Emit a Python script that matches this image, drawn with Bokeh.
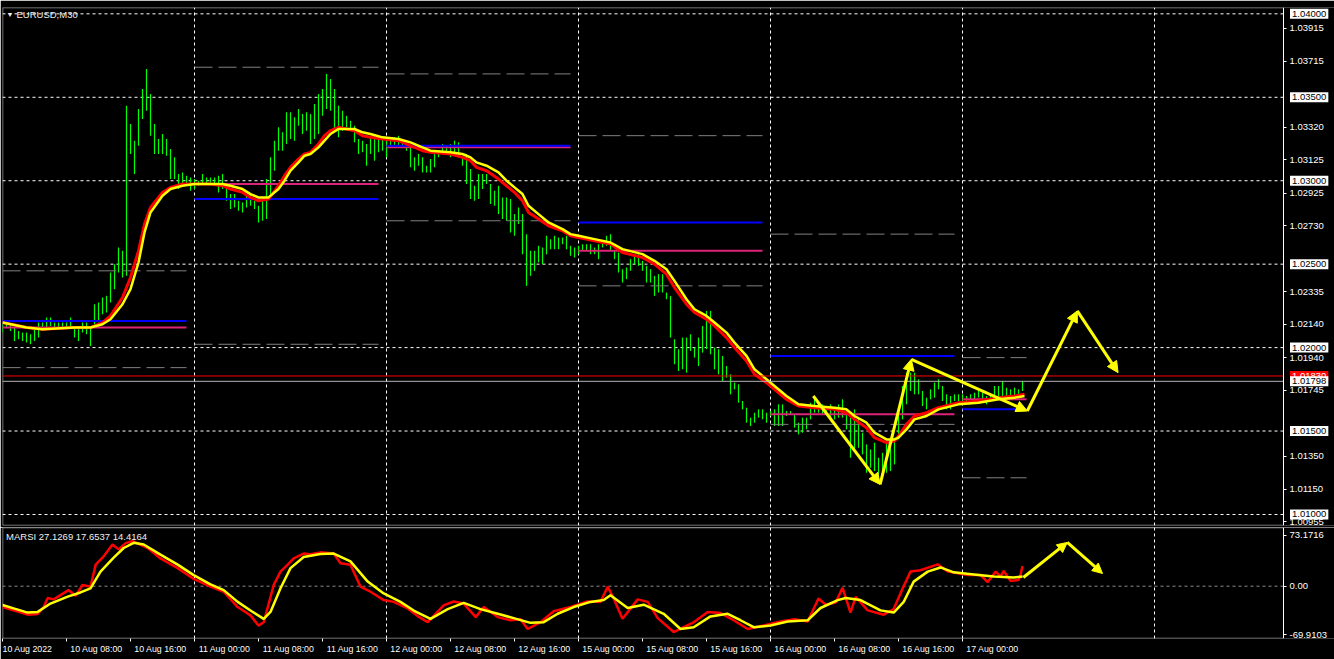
from bokeh.plotting import figure
from bokeh.models import (ColumnDataSource, FixedTicker, Label, Arrow, NormalHead,
                          Range1d, PrintfTickFormatter, LinearAxis, BoxAnnotation)
from bokeh.layouts import column
from bokeh.embed import file_html
from bokeh.resources import INLINE

# ---------------- data ----------------
BAR_HIGH = [
    1.0214, 1.0215, 1.0214, 1.0212, 1.0210, 1.0209, 1.0209, 1.0208, 1.0211, 1.0215,
    1.0215, 1.0218, 1.0218, 1.0215, 1.0215, 1.0215, 1.0215, 1.0218, 1.0212, 1.0211,
    1.0215, 1.0215, 1.0213, 1.0226, 1.0227, 1.0230, 1.0231, 1.0245, 1.0250, 1.0260,
    1.0258, 1.0345, 1.0334, 1.0324, 1.0343, 1.0355, 1.0367, 1.0352, 1.0334, 1.0325,
    1.0328, 1.0325, 1.0319, 1.0314, 1.0304, 1.0305, 1.0303, 1.0302, 1.0301, 1.0300,
    1.0304, 1.0302, 1.0302, 1.0302, 1.0303, 1.0304, 1.0298, 1.0292, 1.0292, 1.0288,
    1.0287, 1.0292, 1.0292, 1.0288, 1.0285, 1.0288, 1.0301, 1.0314, 1.0324, 1.0332,
    1.0329, 1.0341, 1.0341, 1.0338, 1.0343, 1.0340, 1.0341, 1.0340, 1.0346, 1.0352,
    1.0355, 1.0364, 1.0361, 1.0355, 1.0345, 1.0342, 1.0339, 1.0336, 1.0333, 1.0325,
    1.0324, 1.0322, 1.0327, 1.0325, 1.0327, 1.0325, 1.0324, 1.0325, 1.0326, 1.0327,
    1.0323, 1.0322, 1.0320, 1.0314, 1.0316, 1.0314, 1.0309, 1.0313, 1.0316, 1.0318,
    1.0322, 1.0321, 1.0322, 1.0324, 1.0323, 1.0314, 1.0316, 1.0307, 1.0297, 1.0304,
    1.0304, 1.0304, 1.0298, 1.0294, 1.0297, 1.0290, 1.0290, 1.0289, 1.0280, 1.0284,
    1.0280, 1.0268, 1.0258, 1.0258, 1.0261, 1.0260, 1.0267, 1.0265, 1.0267, 1.0266,
    1.0266, 1.0267, 1.0261, 1.0260, 1.0261, 1.0262, 1.0262, 1.0262, 1.0260, 1.0262,
    1.0264, 1.0267, 1.0268, 1.0258, 1.0257, 1.0247, 1.0248, 1.0253, 1.0255, 1.0256,
    1.0252, 1.0249, 1.0247, 1.0243, 1.0244, 1.0244, 1.0233, 1.0231, 1.0205, 1.0199,
    1.0206, 1.0206, 1.0208, 1.0200, 1.0206, 1.0213, 1.0222, 1.0222, 1.0200, 1.0199,
    1.0195, 1.0189, 1.0184, 1.0179, 1.0178, 1.0168, 1.0164, 1.0158, 1.0161, 1.0163,
    1.0163, 1.0161, 1.0162, 1.0163, 1.0166, 1.0166, 1.0162, 1.0162, 1.0160, 1.0155,
    1.0158, 1.0158, 1.0167, 1.0169, 1.0167, 1.0166, 1.0164, 1.0166, 1.0164, 1.0166,
    1.0169, 1.0163, 1.0158, 1.0163, 1.0158, 1.0149, 1.0142, 1.0139, 1.0143, 1.0134,
    1.0137, 1.0143, 1.0146, 1.0146, 1.0161, 1.0177, 1.0185, 1.0185, 1.0185, 1.0181,
    1.0174, 1.0170, 1.0175, 1.0179, 1.0181, 1.0177, 1.0172, 1.0171, 1.0172, 1.0172,
    1.0172, 1.0171, 1.0172, 1.0173, 1.0175, 1.0173, 1.0171, 1.0172, 1.0177, 1.0177,
    1.0180, 1.0176, 1.0175, 1.0176, 1.0175, 1.0180,
]
BAR_LOW = [
    1.0209, 1.0212, 1.0210, 1.0204, 1.0205, 1.0204, 1.0203, 1.0202, 1.0204, 1.0206,
    1.0210, 1.0212, 1.0213, 1.0212, 1.0212, 1.0212, 1.0211, 1.0212, 1.0206, 1.0204,
    1.0209, 1.0208, 1.0201, 1.0213, 1.0215, 1.0220, 1.0221, 1.0227, 1.0235, 1.0245,
    1.0242, 1.0243, 1.0316, 1.0304, 1.0321, 1.0337, 1.0342, 1.0327, 1.0316, 1.0316,
    1.0316, 1.0315, 1.0301, 1.0301, 1.0295, 1.0298, 1.0298, 1.0294, 1.0295, 1.0297,
    1.0298, 1.0298, 1.0299, 1.0297, 1.0293, 1.0295, 1.0288, 1.0283, 1.0284, 1.0282,
    1.0281, 1.0284, 1.0285, 1.0283, 1.0275, 1.0276, 1.0277, 1.0292, 1.0306, 1.0318,
    1.0318, 1.0322, 1.0325, 1.0324, 1.0333, 1.0328, 1.0330, 1.0322, 1.0325, 1.0328,
    1.0339, 1.0343, 1.0342, 1.0331, 1.0326, 1.0330, 1.0332, 1.0330, 1.0323, 1.0316,
    1.0317, 1.0309, 1.0316, 1.0312, 1.0317, 1.0318, 1.0314, 1.0320, 1.0321, 1.0321,
    1.0320, 1.0318, 1.0308, 1.0306, 1.0309, 1.0305, 1.0305, 1.0305, 1.0308, 1.0314,
    1.0316, 1.0317, 1.0314, 1.0317, 1.0314, 1.0309, 1.0298, 1.0289, 1.0288, 1.0289,
    1.0295, 1.0298, 1.0286, 1.0285, 1.0280, 1.0277, 1.0276, 1.0269, 1.0267, 1.0274,
    1.0256, 1.0237, 1.0243, 1.0246, 1.0251, 1.0250, 1.0256, 1.0259, 1.0259, 1.0259,
    1.0262, 1.0259, 1.0255, 1.0254, 1.0256, 1.0258, 1.0258, 1.0256, 1.0256, 1.0253,
    1.0260, 1.0261, 1.0258, 1.0253, 1.0245, 1.0239, 1.0241, 1.0246, 1.0250, 1.0249,
    1.0246, 1.0239, 1.0239, 1.0231, 1.0233, 1.0233, 1.0229, 1.0206, 1.0190, 1.0186,
    1.0187, 1.0185, 1.0198, 1.0194, 1.0189, 1.0197, 1.0199, 1.0196, 1.0187, 1.0184,
    1.0180, 1.0182, 1.0172, 1.0175, 1.0167, 1.0163, 1.0155, 1.0153, 1.0155, 1.0158,
    1.0157, 1.0155, 1.0159, 1.0153, 1.0153, 1.0153, 1.0159, 1.0160, 1.0152, 1.0148,
    1.0149, 1.0151, 1.0157, 1.0161, 1.0161, 1.0160, 1.0161, 1.0158, 1.0157, 1.0158,
    1.0158, 1.0151, 1.0134, 1.0139, 1.0140, 1.0136, 1.0125, 1.0128, 1.0126, 1.0124,
    1.0122, 1.0125, 1.0126, 1.0130, 1.0145, 1.0157, 1.0166, 1.0174, 1.0172, 1.0172,
    1.0165, 1.0163, 1.0169, 1.0170, 1.0175, 1.0168, 1.0163, 1.0163, 1.0168, 1.0168,
    1.0168, 1.0168, 1.0169, 1.0169, 1.0170, 1.0169, 1.0166, 1.0168, 1.0169, 1.0170,
    1.0171, 1.0170, 1.0169, 1.0170, 1.0171, 1.0174,
]
BAR_IDX = list(range(len(BAR_HIGH)))

MA_IDX = [
    0, 6, 10, 18, 22, 25, 27, 30, 32, 34,
    35.5, 37, 40, 42, 45, 48, 52, 55, 57, 60,
    62, 64, 66.5, 69, 70.5, 72, 74, 75.5, 77, 79,
    80.5, 82, 84, 86, 88, 90, 92, 95, 99, 102,
    105, 107, 112, 115, 117, 118.5, 121, 124, 126, 128,
    130, 131.5, 134, 136.5, 140, 142, 144, 148, 152, 155,
    160, 163, 166, 168, 171, 173, 176, 178, 181, 183,
    186, 188, 191, 193, 196, 199, 203, 208, 211, 213,
    216, 218, 221, 223, 224, 226, 228, 231, 234, 239,
    244, 249, 253, 255.5,
]
MA_SLOW = [
    1.0215, 1.0212, 1.0211, 1.0212, 1.0212, 1.0214, 1.0217, 1.0226, 1.0235, 1.0251,
    1.0269, 1.0281, 1.0291, 1.0295, 1.0297, 1.0298, 1.0298, 1.0298, 1.0297, 1.0295,
    1.0292, 1.0290, 1.0290, 1.0295, 1.0300, 1.0306, 1.0311, 1.0315, 1.0316, 1.0320,
    1.0324, 1.0328, 1.0331, 1.0331, 1.0331, 1.0329, 1.0328, 1.0326, 1.0325, 1.0323,
    1.0320, 1.0318, 1.0317, 1.0316, 1.0314, 1.0311, 1.0309, 1.0305, 1.0300, 1.0296,
    1.0292, 1.0285, 1.0280, 1.0275, 1.0271, 1.0268, 1.0267, 1.0265, 1.0263, 1.0259,
    1.0256, 1.0252, 1.0247, 1.0240, 1.0229, 1.0223, 1.0219, 1.0215, 1.0209, 1.0203,
    1.0195, 1.0187, 1.0181, 1.0177, 1.0171, 1.0166, 1.0165, 1.0164, 1.0163, 1.0159,
    1.0155, 1.0149, 1.0145, 1.0145, 1.0146, 1.0151, 1.0157, 1.0159, 1.0163, 1.0166,
    1.0167, 1.0169, 1.0170, 1.0171,
]
MA_FAST = [
    1.0215, 1.0212, 1.0211, 1.0212, 1.0212, 1.0215, 1.0219, 1.0230, 1.0242, 1.0258,
    1.0274, 1.0284, 1.0293, 1.0296, 1.0298, 1.0298, 1.0298, 1.0297, 1.0295, 1.0293,
    1.0290, 1.0288, 1.0289, 1.0297, 1.0303, 1.0308, 1.0313, 1.0316, 1.0317, 1.0322,
    1.0327, 1.0330, 1.0332, 1.0331, 1.0330, 1.0327, 1.0326, 1.0325, 1.0324, 1.0321,
    1.0318, 1.0317, 1.0316, 1.0314, 1.0312, 1.0308, 1.0306, 1.0301, 1.0297, 1.0293,
    1.0288, 1.0281, 1.0277, 1.0273, 1.0270, 1.0267, 1.0266, 1.0264, 1.0262, 1.0257,
    1.0254, 1.0250, 1.0244, 1.0236, 1.0226, 1.0221, 1.0217, 1.0213, 1.0206, 1.0200,
    1.0192, 1.0184, 1.0179, 1.0175, 1.0169, 1.0165, 1.0164, 1.0163, 1.0161, 1.0157,
    1.0152, 1.0146, 1.0143, 1.0144, 1.0147, 1.0154, 1.0159, 1.0161, 1.0164, 1.0167,
    1.0168, 1.0170, 1.0171, 1.0172,
]

MARSI_SLOW_IDX = [
    0, 2.8, 6.3, 8.8, 12, 16.3, 19.5, 22, 24.5, 27.8,
    30.3, 32.8, 35.3, 39.5, 43.8, 47.8, 52, 55.3, 58.8, 62,
    65.3, 67, 69.5, 72, 75.3, 79.5, 82.8, 87, 91.3, 95.3,
    99.5, 102.8, 107, 111.3, 115.3, 119.5, 123.8, 127.8, 132, 135.3,
    138.8, 142.8, 147, 150.3, 152, 156.3, 160.3, 165.3, 169.5, 172.8,
    177, 181.3, 184.5, 187.8, 192, 196.3, 201.3, 204.5, 208.8, 210.8,
    214.5, 219.5, 222.8, 225.3, 227.8, 231.3, 234.5, 237.8, 242.8, 247.8,
    252.8, 255,
]
MARSI_SLOW = [
    -27, -32, -38, -37, -25, -15, -9, -3, 21, 41,
    55, 62.5, 60, 45.5, 31, 16, 2.7, -5.6, -22.6, -35,
    -47, -37, -3, 26, 42, 46.4, 47, 35.8, 6.6, -10.5,
    -22.6, -35, -47, -33, -24, -33, -39.7, -46, -52.8, -51.8,
    -39.7, -30, -22.6, -20, -12.9, -31.4, -26.6, -39.7, -61.6, -59,
    -43.5, -39.7, -49, -59, -56.7, -50.8, -49, -31.4, -20, -17,
    -20, -34.8, -38, -22.6, 6.6, 21, 27, 20, 17, 13.9,
    12.4, 13.9,
]
MARSI_FAST_IDX = [
    0, 6.3, 8.8, 10.3, 11.3, 12.8, 16.5, 18.3, 20, 22,
    23.3, 25.3, 27.5, 29, 30.8, 32.5, 36.3, 39.5, 43.8, 47.8,
    52, 55.3, 58.8, 62, 64, 65.3, 67.8, 69.5, 71.3, 72.8,
    75.3, 77, 79.5, 82.8, 84.5, 87, 89.5, 92, 95.3, 97.8,
    101.3, 103.8, 106.3, 110.3, 112.8, 115.3, 118.3, 120.3, 123.8, 127,
    129.5, 131.3, 134.5, 137.8, 142, 146.3, 149.5, 151.3, 152.8, 155,
    158.8, 161.3, 163.8, 167.8, 170.3, 172.8, 176.3, 179.5, 182.8, 186.3,
    190.3, 194.5, 198, 201.3, 204, 205.8, 208.3, 210, 212, 213.3,
    216.3, 220.3, 222.8, 225, 227, 229.5, 233.8, 236.3, 241.3, 244.5,
    246.3, 248.3, 249.5, 250.3, 252, 254, 254.5, 255,
]
MARSI_FAST = [
    -30, -41, -40, -30, -17, -19, -5.6, -13.6, 1.7, -0.7,
    31, 43, 60, 53, 62, 65, 55, 40, 26, 10.5,
    -0.7, -8, -30, -42, -56.7, -52, 1.7, 21, 31, 40,
    47, 46, 48.7, 47, 33, 31, -0.7, -8, -20, -22.6,
    -32, -43, -51.8, -27.6, -22, -25, -44.5, -30, -44.5, -49,
    -47.5, -61.6, -51.8, -36, -30, -22, -22.6, -0.7, -17.8, -47,
    -19, -22.6, -46, -66, -59, -52, -37, -38.7, -49, -61.6,
    -56.7, -50.8, -47.5, -50.8, -17.8, -26.6, -23.6, -2.2, -38, -15.4,
    -34.8, -41, -33, -3.6, 21, 23, 31.5, 21, 16, 16,
    6, 21, 14, 22, 7.6, 9, 16, 29,
]

# daily levels
DAY_START = [0, 48, 96, 144, 192, 240]
DAY_END = [46, 94, 142, 190, 238, 256]
PIVOT_BLUE = [1.0216, 1.0289, 1.0321, 1.0275, 1.0195, 1.0163]
PIVOT_MAGENTA = [1.0212, 1.0298, 1.0320, 1.0258, 1.0160, 1.0169]
RANGE_HIGH = [1.0246, 1.0368, 1.0364, 1.0327, 1.0268, 1.0194]
RANGE_LOW = [1.0188, 1.0202, 1.0276, 1.0237, 1.0154, 1.0122]

ASK_LINE = 1.01830
BID_LINE = 1.01798

# hand-drawn wave projection
WAVE_IDX = [202.7, 219.4, 227.2, 256.2, 268.7, 278.9]
WAVE_PRICE = [1.0171, 1.0118, 1.0193, 1.0162, 1.0222, 1.0185]
MARSI_WAVE_IDX = [255.2, 266.2, 275.0]
MARSI_WAVE_VAL = [12.5, 63.0, 18.3]

GRID_PRICES = [1.04000, 1.03500, 1.03000, 1.02500, 1.02000, 1.01500, 1.01000]
PRICE_TICKS = [1.00955, 1.01150, 1.01350, 1.01745, 1.01940, 1.02140, 1.02335,
               1.02730, 1.02925, 1.03125, 1.03320, 1.03715, 1.03915]
SESSION_IDX = [48, 96, 144, 192, 240, 288]
TIME_TICK_IDX = [0, 16, 32, 48, 64, 80, 96, 112, 128, 144, 160, 176, 192, 208, 224, 240]
TIME_TICK_LABELS = ["10 Aug 2022", "10 Aug 08:00", "10 Aug 16:00", "11 Aug 00:00",
                    "11 Aug 08:00", "11 Aug 16:00", "12 Aug 00:00", "12 Aug 08:00",
                    "12 Aug 16:00", "15 Aug 00:00", "15 Aug 08:00", "15 Aug 16:00",
                    "16 Aug 00:00", "16 Aug 08:00", "16 Aug 16:00", "17 Aug 00:00"]
MARSI_TICKS = [73.1716, 0.0, -69.9103]
MARSI_TICK_LABELS = ["73.1716", "0.00", "-69.9103"]

# ---------------- styling / layout ----------------
FONT = "Liberation Sans"
W = 1334
LEFT = 2
PPB = 4.0                       # pixels per bar
X_START = 0.0
X_END = X_START + (W - LEFT) / PPB
X_SEP = 320.25                  # where the price scale starts
Y_TOP, Y_BOT = 1.04038, 1.00934
M_TOP, M_BOT = 84.5, -75.3
GREEN = "#00ff00"
MAGENTA = "#dc2378"
TXT = "#f0f0f0"
px_y = (Y_TOP - Y_BOT) / 518.0
px_m = (M_TOP - M_BOT) / 111.0

p = figure(width=W, height=527, x_range=Range1d(X_START, X_END),
           y_range=Range1d(Y_BOT, Y_TOP), output_backend="svg",
           toolbar_location=None, min_border_left=LEFT, min_border_right=0,
           min_border_top=7, min_border_bottom=2, x_axis_location=None,
           y_axis_location=None, background_fill_color="black",
           border_fill_color="black", outline_line_color=None)


def style_price_axis(a, size="9.5px"):
    a.axis_line_color = "white"
    a.major_tick_line_color = "white"
    a.major_tick_out = 3
    a.major_tick_in = 0
    a.minor_tick_line_color = None
    a.major_label_text_color = "white"
    a.major_label_text_font = FONT
    a.major_label_text_font_size = size
    a.major_label_standoff = 3


pax = LinearAxis(fixed_location=X_SEP, ticker=FixedTicker(ticks=PRICE_TICKS),
                 formatter=PrintfTickFormatter(format="%.5f"))
style_price_axis(pax)
p.add_layout(pax, "right")

p.xgrid.ticker = FixedTicker(ticks=SESSION_IDX)
p.xgrid.grid_line_color = "white"
p.xgrid.grid_line_dash = "3 3"
p.ygrid.grid_line_color = None

# frame border of the price window
p.add_layout(BoxAnnotation(left=X_START + 0.5 / PPB, right=X_SEP,
                           top=Y_TOP - 0.5 * px_y, bottom=Y_BOT + 0.5 * px_y,
                           fill_alpha=0, line_color="white", line_width=1, level="underlay"))

# horizontal price lines (dotted, across the chart only)
n = len(GRID_PRICES)
p.segment(x0=[X_START] * n, x1=[X_SEP] * n, y0=GRID_PRICES, y1=GRID_PRICES,
          line_color="white", line_width=1, line_dash="3 3")

# OHLC bars
p.segment(x0=BAR_IDX, x1=BAR_IDX, y0=BAR_LOW, y1=BAR_HIGH, line_color=GREEN, line_width=1.2)

# daily level lines
p.segment(x0=DAY_START, x1=DAY_END, y0=RANGE_HIGH, y1=RANGE_HIGH,
          line_color="#808080", line_width=1, line_dash="18 6")
p.segment(x0=DAY_START, x1=DAY_END, y0=RANGE_LOW, y1=RANGE_LOW,
          line_color="#808080", line_width=1, line_dash="18 6")
p.segment(x0=DAY_START, x1=DAY_END, y0=PIVOT_MAGENTA, y1=PIVOT_MAGENTA,
          line_color=MAGENTA, line_width=2)
p.segment(x0=DAY_START, x1=DAY_END, y0=PIVOT_BLUE, y1=PIVOT_BLUE,
          line_color="#0000ff", line_width=2)

# moving averages
p.line(MA_IDX, MA_FAST, line_color="#ff0000", line_width=3)
p.line(MA_IDX, MA_SLOW, line_color="#ffff00", line_width=2.5)

# current price lines
p.segment(x0=[X_START, X_START], x1=[X_SEP, X_SEP], y0=[ASK_LINE, BID_LINE],
          y1=[ASK_LINE, BID_LINE], line_color=["#ff0000", "#b4b4b4"], line_width=1)

wave = ColumnDataSource(dict(x0=WAVE_IDX[:-1], y0=WAVE_PRICE[:-1],
                             x1=WAVE_IDX[1:], y1=WAVE_PRICE[1:]))
p.add_layout(Arrow(end=NormalHead(size=11, fill_color="#ffff00", line_color="#ffff00"),
                   source=wave, x_start="x0", y_start="y0", x_end="x1", y_end="y1",
                   line_color="#ffff00", line_width=3))

# price boxes on the right scale
x_box = X_SEP + 6.5 / PPB


def price_box(v, bg, fg):
    p.add_layout(Label(x=x_box, y=v, text=f"{v:.5f}", text_font=FONT,
                       text_font_size="9.5px", text_color=fg, text_baseline="middle",
                       background_fill_color=bg, padding=2))


for v in GRID_PRICES:
    price_box(v, "white", "black")
price_box(ASK_LINE, "#ff0000", "white")
price_box(BID_LINE, "white", "black")

p.add_layout(Label(x=1.0, y=Y_TOP - 7 * px_y, text="\u25bc", text_font_size="7px",
                   text_color=TXT, text_baseline="middle"))
p.add_layout(Label(x=3.5, y=Y_TOP - 7 * px_y, text="EURUSD,M30", text_font=FONT,
                   text_font_size="9.5px", text_color=TXT, text_baseline="middle"))

# ---------------- indicator panel ----------------
q = figure(width=W, height=132, x_range=p.x_range, y_range=Range1d(M_BOT, M_TOP),
           output_backend="svg", toolbar_location=None, min_border_left=LEFT,
           min_border_right=0, min_border_top=0, min_border_bottom=21,
           y_axis_location=None, background_fill_color="black",
           border_fill_color="black", outline_line_color=None)

qa = LinearAxis(fixed_location=X_SEP, ticker=FixedTicker(ticks=MARSI_TICKS))
qa.major_label_overrides = {t: s for t, s in zip(MARSI_TICKS, MARSI_TICK_LABELS)}
style_price_axis(qa)
q.add_layout(qa, "right")

q.add_layout(BoxAnnotation(left=X_START + 0.5 / PPB, right=X_SEP,
                           top=M_TOP - 0.5 * px_m, bottom=M_BOT + 0.5 * px_m,
                           fill_alpha=0, line_color="white", line_width=1, level="underlay"))

# time axis: labels start at their bar, as in the terminal
label_pos = [k + (6.25 if i == 0 else 7.5) for i, k in enumerate(TIME_TICK_IDX)]
xa = q.xaxis[0]
xa.ticker = FixedTicker(ticks=label_pos, minor_ticks=TIME_TICK_IDX)
xa.major_label_overrides = {t: s for t, s in zip(label_pos, TIME_TICK_LABELS)}
xa.axis_line_color = None
xa.major_tick_line_color = None
xa.major_tick_out = 0
xa.major_tick_in = 0
xa.minor_tick_line_color = "white"
xa.minor_tick_out = 3
xa.minor_tick_in = 0
xa.major_label_text_color = "white"
xa.major_label_text_font = FONT
xa.major_label_text_font_size = "8.8px"
xa.major_label_standoff = 2

q.xgrid.ticker = FixedTicker(ticks=SESSION_IDX)
q.xgrid.grid_line_color = "white"
q.xgrid.grid_line_dash = "3 3"
q.ygrid.grid_line_color = None
q.segment(x0=[X_START], x1=[X_SEP], y0=[0.0], y1=[0.0],
          line_color="#8a8a8a", line_width=1, line_dash="3 3")

q.line(MARSI_FAST_IDX, MARSI_FAST, line_color="#ff0000", line_width=2.5)
q.line(MARSI_SLOW_IDX, MARSI_SLOW, line_color="#ffff00", line_width=2.5)

mw = ColumnDataSource(dict(x0=MARSI_WAVE_IDX[:-1], y0=MARSI_WAVE_VAL[:-1],
                           x1=MARSI_WAVE_IDX[1:], y1=MARSI_WAVE_VAL[1:]))
q.add_layout(Arrow(end=NormalHead(size=10, fill_color="#ffff00", line_color="#ffff00"),
                   source=mw, x_start="x0", y_start="y0", x_end="x1", y_end="y1",
                   line_color="#ffff00", line_width=3))

q.add_layout(Label(x=0.9, y=M_TOP - 9 * px_m, text="MARSI 27.1269 17.6537 14.4164",
                   text_font=FONT, text_font_size="9.5px", text_color=TXT,
                   text_baseline="middle"))

layout = column(p, q, spacing=0)
open("out.html", "w").write(file_html(layout, INLINE))
